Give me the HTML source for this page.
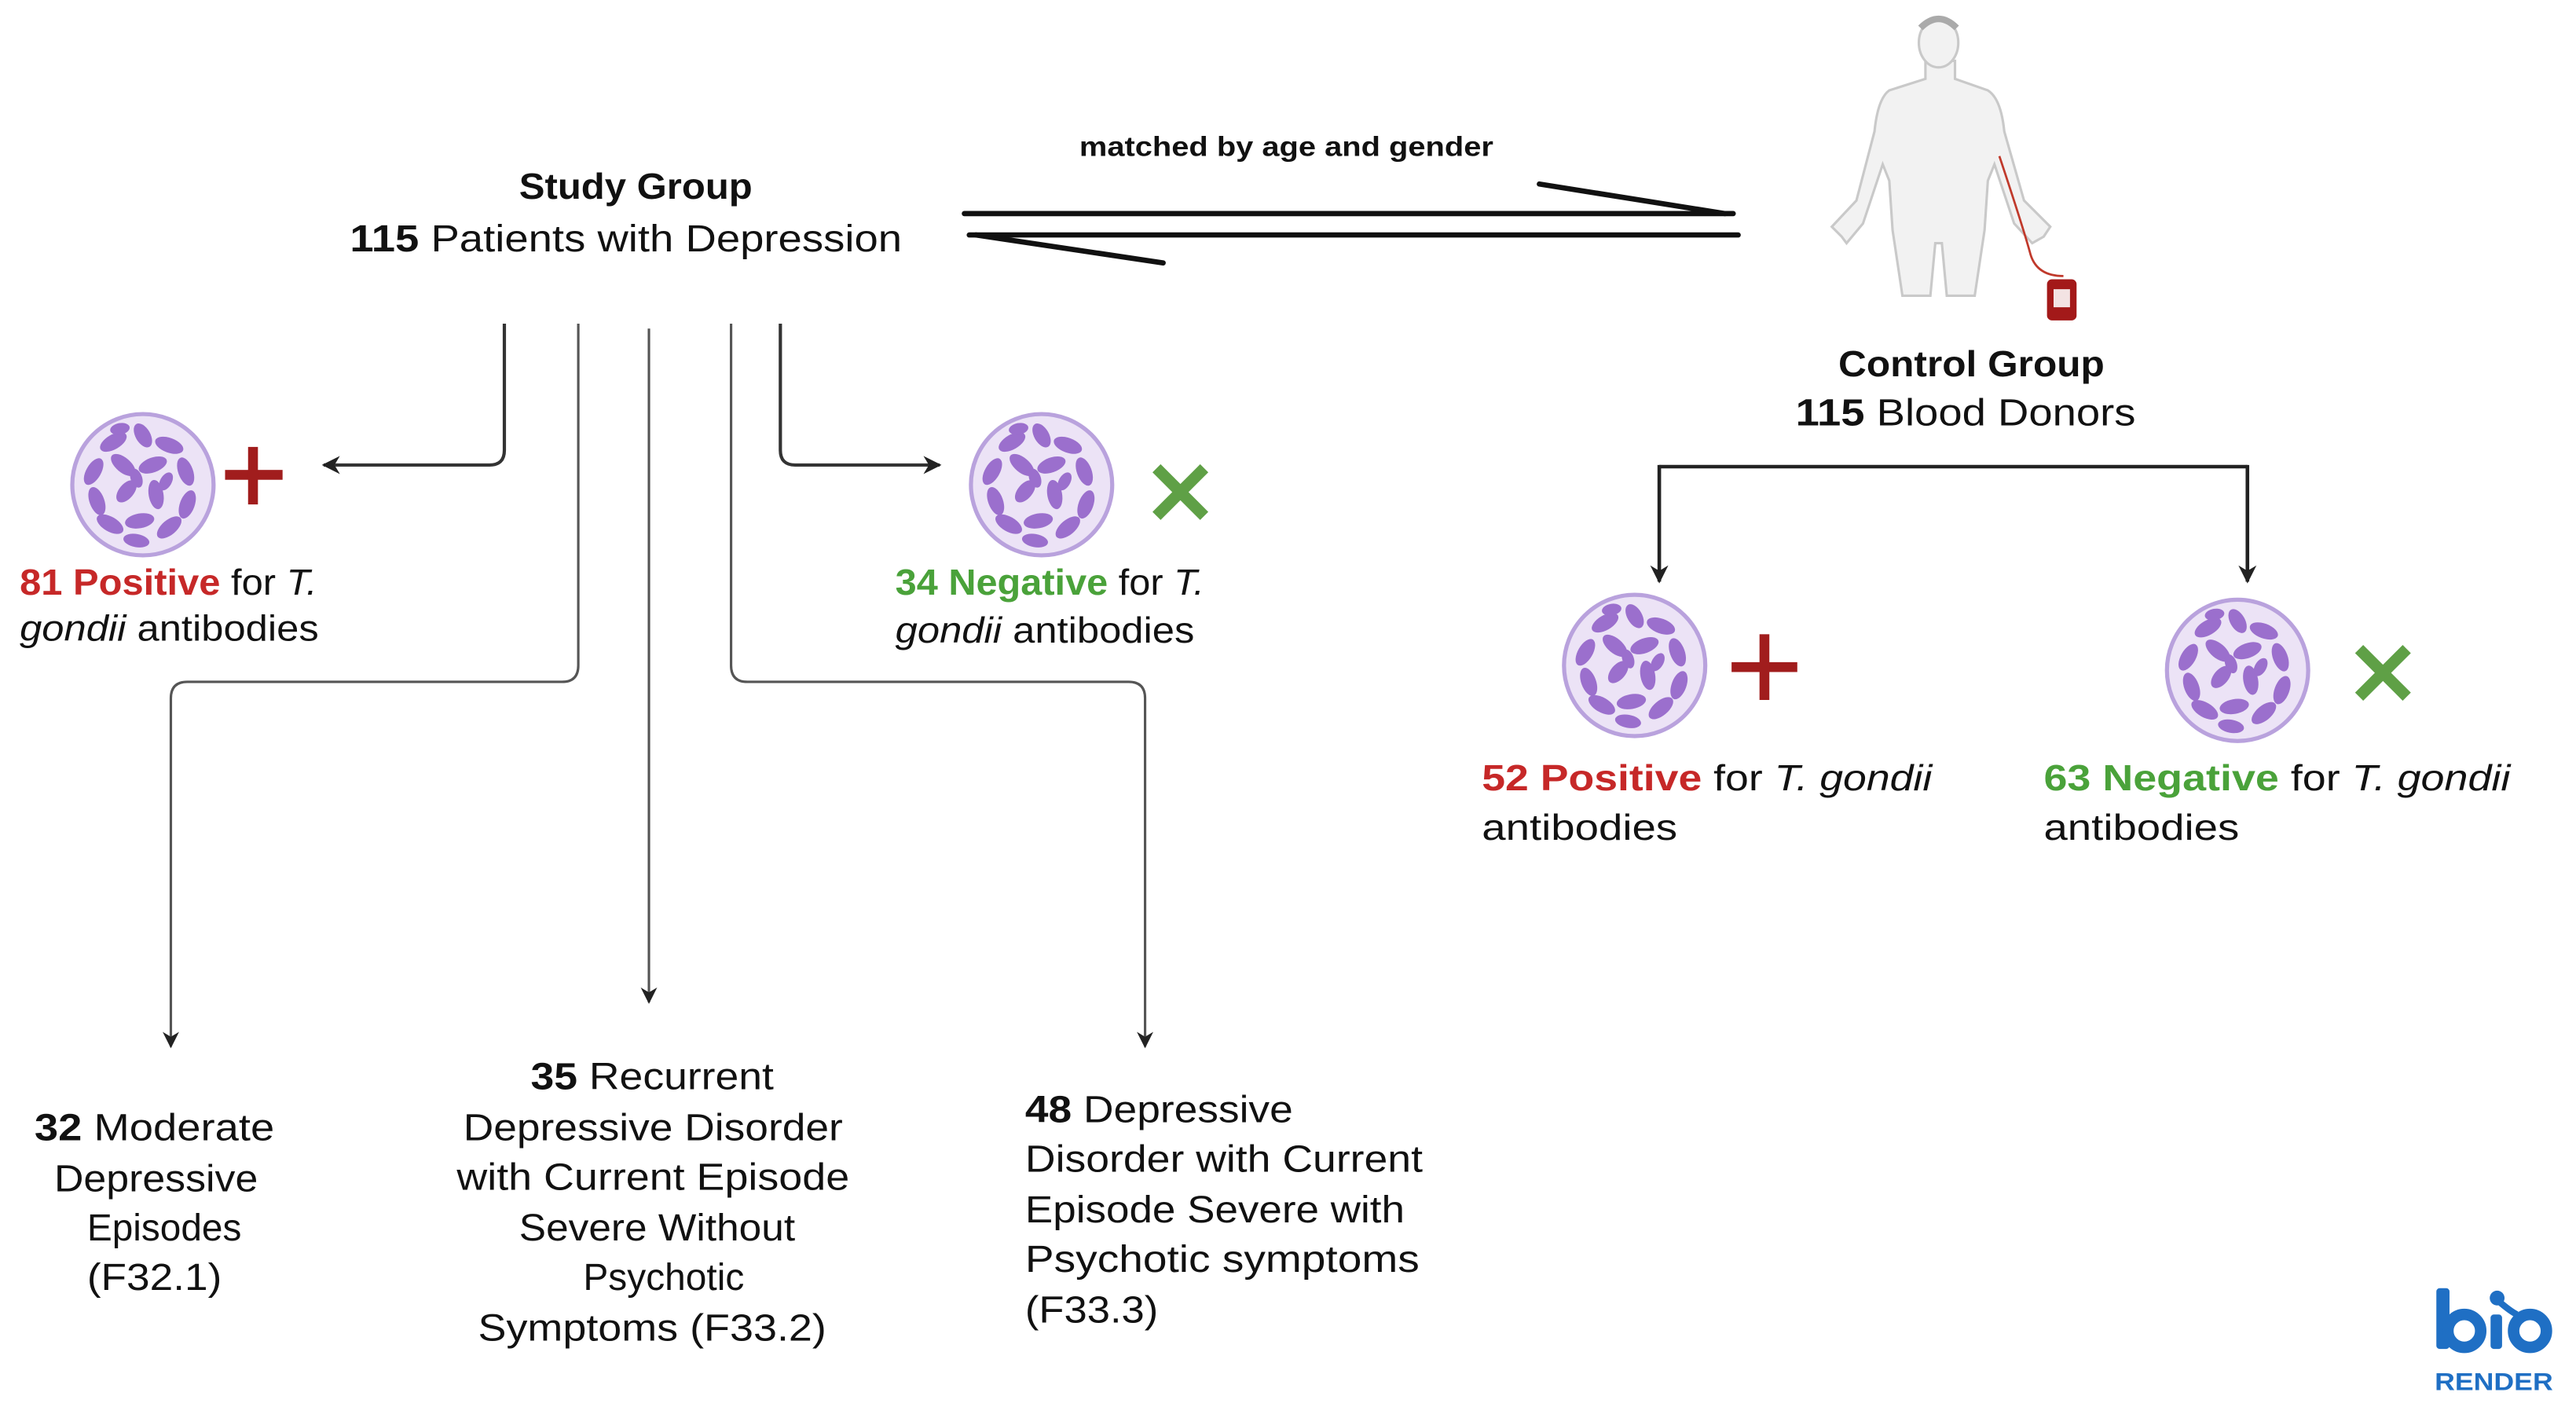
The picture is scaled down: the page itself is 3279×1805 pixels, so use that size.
<!DOCTYPE html>
<html><head><meta charset="utf-8"><style>
html,body{margin:0;padding:0;background:#fff;}
svg{display:block;}
text{font-family:"Liberation Sans",sans-serif;fill:#111;}
</style></head><body>
<svg width="3279" height="1805" viewBox="0 0 1568 863" preserveAspectRatio="none" xmlns="http://www.w3.org/2000/svg">
<defs>
<g id="cell">
<circle r="43" fill="#ece3f6" stroke="#b9a2dd" stroke-width="2.5"/>
<g fill="#9b6fcd">
<ellipse cx="-18" cy="-26" rx="9" ry="4.5" transform="rotate(-30 -18 -26)"/>
<ellipse cx="0" cy="-30" rx="8" ry="4.5" transform="rotate(60 0 -30)"/>
<ellipse cx="16" cy="-24" rx="9" ry="4.5" transform="rotate(20 16 -24)"/>
<ellipse cx="-30" cy="-8" rx="9" ry="4.5" transform="rotate(-60 -30 -8)"/>
<ellipse cx="-12" cy="-12" rx="9" ry="4.5" transform="rotate(40 -12 -12)"/>
<ellipse cx="6" cy="-12" rx="9" ry="4.5" transform="rotate(-20 6 -12)"/>
<ellipse cx="26" cy="-8" rx="9" ry="4.5" transform="rotate(70 26 -8)"/>
<ellipse cx="-28" cy="10" rx="9" ry="4.5" transform="rotate(70 -28 10)"/>
<ellipse cx="-10" cy="4" rx="8" ry="4.5" transform="rotate(-50 -10 4)"/>
<ellipse cx="8" cy="6" rx="9" ry="4.5" transform="rotate(80 8 6)"/>
<ellipse cx="27" cy="12" rx="9" ry="4.5" transform="rotate(-70 27 12)"/>
<ellipse cx="-20" cy="24" rx="9" ry="4.5" transform="rotate(30 -20 24)"/>
<ellipse cx="-2" cy="22" rx="9" ry="4.5" transform="rotate(-10 -2 22)"/>
<ellipse cx="16" cy="26" rx="9" ry="4.5" transform="rotate(-40 16 26)"/>
<ellipse cx="-4" cy="34" rx="8" ry="4" transform="rotate(10 -4 34)"/>
<ellipse cx="-14" cy="-34" rx="6" ry="3.5" transform="rotate(-10 -14 -34)"/>
<ellipse cx="-4" cy="-4" rx="6" ry="3.5" transform="rotate(70 -4 -4)"/>
<ellipse cx="14" cy="-2" rx="6" ry="3.5" transform="rotate(-60 14 -2)"/>
</g>
</g>
<marker id="ah2" viewBox="0 0 10 10" refX="9" refY="5" markerWidth="11" markerHeight="11" orient="auto" markerUnits="userSpaceOnUse">
<path d="M0,0 L10,5 L0,10 L3,5 z" fill="#222"/>
</marker>
<marker id="ah" viewBox="0 0 10 10" refX="9" refY="5" markerWidth="10" markerHeight="10" orient="auto" markerUnits="userSpaceOnUse">
<path d="M0,0 L10,5 L0,10 L3,5 z" fill="#222"/>
</marker>
</defs>

<text x="387" y="121" font-size="22" font-weight="bold" text-anchor="middle" textLength="142" lengthAdjust="spacingAndGlyphs">Study Group</text>
<text x="213" y="153" font-size="23" textLength="336" lengthAdjust="spacingAndGlyphs"><tspan font-weight="bold">115</tspan> Patients with Depression</text>
<text x="657" y="95" font-size="17" font-weight="bold" textLength="252" lengthAdjust="spacingAndGlyphs">matched by age and gender</text>

<g stroke="#111" stroke-width="3.2" fill="none" stroke-linecap="round">
<line x1="587" y1="130" x2="1055" y2="130"/>
<line x1="937" y1="112" x2="1050" y2="130"/>
<line x1="590" y1="143" x2="1058" y2="143"/>
<line x1="594" y1="143" x2="708" y2="160"/>
</g>

<!-- person -->
<path d="M1172,37 L1172,48 L1150,55 Q1143,60 1141,80 L1130,122 L1115,138 L1121,144 L1124,148 L1134,136 L1146,100 L1150,110 L1152,140 L1158,180 L1175,180 L1178,148 L1182,148 L1185,180 L1202,180 L1208,140 L1210,110 L1214,100 L1226,136 L1237,148 L1244,144 L1248,138 L1232,122 L1220,80 Q1218,60 1210,55 L1190,48 L1190,37 Z" fill="#f2f2f2" stroke="#c9c9c9" stroke-width="1.5"/>
<ellipse cx="1180" cy="26" rx="12" ry="15" fill="#f2f2f2" stroke="#c9c9c9" stroke-width="1.5"/>
<path d="M1169,17 Q1180,6 1191,17" stroke="#aaa" stroke-width="4" fill="none"/>
<path d="M1217,95 Q1232,140 1236,155 Q1240,168 1256,168" stroke="#c0392b" stroke-width="1.3" fill="none"/>
<rect x="1246" y="170" width="18" height="25" rx="3" fill="#a31919"/>
<rect x="1250" y="176" width="10" height="11" fill="#f3e3e3"/>

<text x="1200" y="229" font-size="22" font-weight="bold" text-anchor="middle" textLength="162" lengthAdjust="spacingAndGlyphs">Control Group</text>
<text x="1093" y="259" font-size="23" textLength="207" lengthAdjust="spacingAndGlyphs"><tspan font-weight="bold">115</tspan> Blood Donors</text>

<g stroke="#222" stroke-width="2.2" fill="none">
<path d="M1010,284 L1368,284"/>
<path d="M1010,283 L1010,354" marker-end="url(#ah2)"/>
<path d="M1368,283 L1368,354" marker-end="url(#ah2)"/>
</g>

<g stroke="#333" stroke-width="2" fill="none">
<path d="M307,197 L307,274 Q307,283 298,283 L197,283" marker-end="url(#ah2)"/>
<path d="M475,197 L475,274 Q475,283 484,283 L572,283" marker-end="url(#ah2)"/>
</g>
<g stroke="#555" stroke-width="1.5" fill="none">
<path d="M352,197 L352,405 Q352,415 342,415 L114,415 Q104,415 104,425 L104,637" marker-end="url(#ah)"/>
<path d="M395,200 L395,610" marker-end="url(#ah)"/>
<path d="M445,197 L445,405 Q445,415 455,415 L687,415 Q697,415 697,425 L697,637" marker-end="url(#ah)"/>
</g>

<use href="#cell" x="87" y="295"/>
<use href="#cell" x="634" y="295"/>
<use href="#cell" x="995" y="405"/>
<use href="#cell" x="1362" y="408"/>

<g fill="#a11d1d">
<rect x="137" y="286" width="35" height="6"/><rect x="151" y="272" width="6" height="35"/>
<rect x="1054" y="403" width="40" height="6"/><rect x="1071" y="386" width="6" height="40"/>
</g>
<g stroke="#5fa046" stroke-width="7">
<line x1="704" y1="285" x2="733" y2="314"/><line x1="733" y1="285" x2="704" y2="314"/>
<line x1="1436" y1="395" x2="1465" y2="424"/><line x1="1465" y1="395" x2="1436" y2="424"/>
</g>

<g font-size="22">
<text x="12" y="362" textLength="181" lengthAdjust="spacingAndGlyphs"><tspan font-weight="bold" style="fill:#c62828">81 Positive</tspan> for <tspan font-style="italic">T.</tspan></text>
<text x="12" y="390" textLength="182" lengthAdjust="spacingAndGlyphs"><tspan font-style="italic">gondii</tspan> antibodies</text>
<text x="545" y="362" textLength="188" lengthAdjust="spacingAndGlyphs"><tspan font-weight="bold" style="fill:#4aa23a">34 Negative</tspan> for <tspan font-style="italic">T.</tspan></text>
<text x="545" y="391" textLength="182" lengthAdjust="spacingAndGlyphs"><tspan font-style="italic">gondii</tspan> antibodies</text>
<text x="902" y="481" textLength="274" lengthAdjust="spacingAndGlyphs"><tspan font-weight="bold" style="fill:#c62828">52 Positive</tspan> for <tspan font-style="italic">T. gondii</tspan></text>
<text x="902" y="511" textLength="119" lengthAdjust="spacingAndGlyphs">antibodies</text>
<text x="1244" y="481" textLength="284" lengthAdjust="spacingAndGlyphs"><tspan font-weight="bold" style="fill:#4aa23a">63 Negative</tspan> for <tspan font-style="italic">T. gondii</tspan></text>
<text x="1244" y="511" textLength="119" lengthAdjust="spacingAndGlyphs">antibodies</text>
</g>

<g font-size="23">
<text x="21" y="694" textLength="146" lengthAdjust="spacingAndGlyphs"><tspan font-weight="bold">32</tspan> Moderate</text>
<text x="33" y="725" textLength="124" lengthAdjust="spacingAndGlyphs">Depressive</text>
<text x="53" y="755" textLength="94" lengthAdjust="spacingAndGlyphs">Episodes</text>
<text x="53" y="785" textLength="82" lengthAdjust="spacingAndGlyphs">(F32.1)</text>

<text x="323" y="663" textLength="148" lengthAdjust="spacingAndGlyphs"><tspan font-weight="bold">35</tspan> Recurrent</text>
<text x="282" y="694" textLength="231" lengthAdjust="spacingAndGlyphs">Depressive Disorder</text>
<text x="278" y="724" textLength="239" lengthAdjust="spacingAndGlyphs">with Current Episode</text>
<text x="316" y="755" textLength="168" lengthAdjust="spacingAndGlyphs">Severe Without</text>
<text x="355" y="785" textLength="98" lengthAdjust="spacingAndGlyphs">Psychotic</text>
<text x="291" y="816" textLength="212" lengthAdjust="spacingAndGlyphs">Symptoms (F33.2)</text>

<text x="624" y="683" textLength="163" lengthAdjust="spacingAndGlyphs"><tspan font-weight="bold">48</tspan> Depressive</text>
<text x="624" y="713" textLength="242" lengthAdjust="spacingAndGlyphs">Disorder with Current</text>
<text x="624" y="744" textLength="231" lengthAdjust="spacingAndGlyphs">Episode Severe with</text>
<text x="624" y="774" textLength="240" lengthAdjust="spacingAndGlyphs">Psychotic symptoms</text>
<text x="624" y="805" textLength="81" lengthAdjust="spacingAndGlyphs">(F33.3)</text>
</g>

<g fill="#1f6fc4">
<rect x="1483" y="784" width="8" height="37" rx="2"/>
<circle cx="1500" cy="810" r="10" fill="none" stroke="#1f6fc4" stroke-width="7"/>
<rect x="1516" y="800" width="7" height="21" rx="2"/>
<circle cx="1520" cy="790" r="4.5"/>
<circle cx="1540" cy="810" r="10" fill="none" stroke="#1f6fc4" stroke-width="7"/>
<path d="M1521,792 Q1528,798 1532,800" stroke="#1f6fc4" stroke-width="4" fill="none"/>
<text x="1482" y="846" font-size="15" font-weight="bold" style="fill:#1f6fc4" textLength="72" lengthAdjust="spacingAndGlyphs">RENDER</text>
</g>
</svg>
</body></html>
